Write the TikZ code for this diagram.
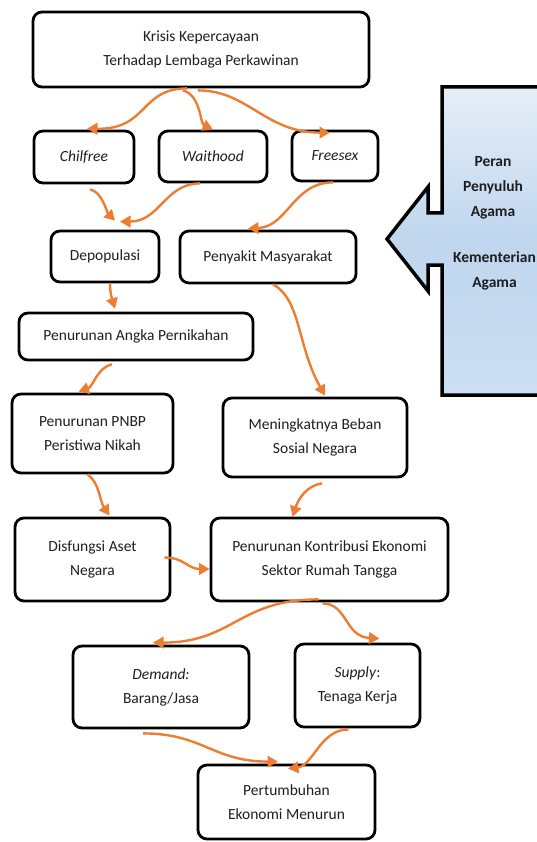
\documentclass[tikz,border=0pt]{standalone}
\usepackage{fontspec}
\setmainfont{Carlito}
\usetikzlibrary{arrows.meta}
\definecolor{oranye}{HTML}{ED7D31}
\definecolor{teks}{HTML}{1E1E1E}
\definecolor{biruA}{HTML}{E6EEF8}
\definecolor{biruB}{HTML}{BFD6EE}
\definecolor{biruC}{HTML}{CCDFF2}

\begin{document}
\begin{tikzpicture}[x = 1pt, y = -1pt, line width = 1pt,
                        kotak/.style = {draw, rounded corners = 9pt, line width = 2.8pt, align = center,
                                        text = teks, inner sep = 0pt, font = \fontsize{15.5}{24}\selectfont},
                        label peran/.style = {align = center, text = teks, font = \bfseries\fontsize{15.5}{25}\selectfont},
                        panah/.style = {draw = oranye, line width = 2.4pt, -{Triangle[length = 10.5pt, width = 11.5pt]}}]
      \useasboundingbox (0, 0) rectangle (537, 842);
      \clip (0, 0) rectangle (537, 842);

      % kotak penyuluh agama
      \path [draw, line width = 3.5pt, top color = biruA, bottom color = biruC, middle color = biruB]
            (442, 87) -- (545, 87) -- (545, 395) -- (442, 395) -- (442, 265) -- (428, 265)
            -- (428, 291) -- (387, 239) -- (428, 187) -- (428, 213) -- (442, 213) -- cycle;
      \node [label peran] (peran) at (493, 188) {Peran\\Penyuluh\\Agama};
      \node [label peran] (kemenag) at (494.5, 271) {Kementerian\\Agama};

      \node [kotak, minimum width = 336pt, minimum height = 75pt] (krisis) at (201, 49.5) {Krisis Kepercayaan\\Terhadap Lembaga Perkawinan};
      \node [kotak, minimum width = 100pt, minimum height = 52pt] (chil) at (84, 157) {\itshape Chilfree};
      \node [kotak, minimum width = 108pt, minimum height = 51pt] (wait) at (213, 156.5) {\itshape Waithood};
      \node [kotak, minimum width = 86pt, minimum height = 50pt] (free) at (335, 156) {\itshape Freesex};
      \node [kotak, minimum width = 108pt, minimum height = 51pt] (depop) at (105, 256.5) {Depopulasi};
      \node [kotak, minimum width = 176pt, minimum height = 52pt] (penyakit) at (268, 257) {Penyakit Masyarakat};
      \node [kotak, minimum width = 234pt, minimum height = 47pt] (angka) at (136, 336.5) {Penurunan Angka Pernikahan};
      \node [kotak, minimum width = 161pt, minimum height = 79pt] (pnbp) at (92.5, 433.5) {Penurunan PNBP\\Peristiwa Nikah};
      \node [kotak, minimum width = 184pt, minimum height = 79pt] (beban) at (315, 437.5) {Meningkatnya Beban\\Sosial Negara};
      \node [kotak, minimum width = 155pt, minimum height = 83pt] (aset) at (92.5, 559.5) {Disfungsi Aset\\Negara};
      \node [kotak, minimum width = 237pt, minimum height = 83pt] (kontribusi) at (329.5, 559.5) {Penurunan Kontribusi Ekonomi\\Sektor Rumah Tangga};
      \node [kotak, minimum width = 176pt, minimum height = 82pt] (demand) at (161, 687) {\textit{Demand:}\\Barang/Jasa};
      \node [kotak, minimum width = 125pt, minimum height = 83pt] (supply) at (357.5, 685.5) {\textit{Supply}:\\Tenaga Kerja};
      \node [kotak, minimum width = 177pt, minimum height = 74pt] (tumbuh) at (286.5, 802) {Pertumbuhan\\Ekonomi Menurun};

      \draw [panah] ([xshift = -14pt]krisis.south) .. controls +(-47, 0) and +(61, 1) .. ([xshift = 3pt, yshift = 1pt]chil.north);
      \draw [panah] ([xshift = -18pt, yshift = -2pt]krisis.south) .. controls +(18, 5) and +(-13, -6) .. (wait.north);
      \draw [panah] ([xshift = -3pt, yshift = -2pt]krisis.south) .. controls +(50, 0) and +(-65, 0) .. ([xshift = -5pt, yshift = -3pt]free.north);
      \draw [panah] ([xshift = 6pt, yshift = -5pt]chil.south) .. controls +(12, 2) and +(-8, -8) .. ([xshift = 10pt, yshift = 9pt]depop.north);
      \draw [panah] ([xshift = -13pt]wait.south) .. controls +(-35, 0) and +(40, 0) .. ([xshift = 15pt, yshift = 8pt]depop.north);
      \draw [panah] ([xshift = -2pt]free.south) .. controls +(-40, 0) and +(40, -2) .. ([xshift = -20pt, yshift = 1pt]penyakit.north);
      \draw [panah] ([xshift = 5pt]depop.south) .. controls +(0, 10) and +(-3, -10) .. ([xshift = -21pt, yshift = 3pt]angka.north);
      \draw [panah] ([xshift = -24pt, yshift = -3pt]angka.south) .. controls +(-15, 3) and +(15, -5) .. ([xshift = -14pt, yshift = 1pt]pnbp.north);
      \draw [panah] ([xshift = 5pt]penyakit.south) .. controls +(28, 15) and +(-28, -50) .. ([xshift = 10pt, yshift = 1pt]beban.north);
      \draw [panah] ([xshift = -5pt]pnbp.south) .. controls +(12, 8) and +(-10, -15) .. ([xshift = 17pt, yshift = 1pt]aset.north);
      \draw [panah] ([xshift = 7pt, yshift = -5pt]beban.south) .. controls +(-15, 2) and +(6, -18) .. ([xshift = -37pt]kontribusi.north);
      \draw [panah] ([xshift = -7pt, yshift = 2pt]aset.east) .. controls +(20, 0) and +(-22, 0) .. ([yshift = -9.5pt]kontribusi.west);
      \draw [panah] ([xshift = -11pt, yshift = 3pt]kontribusi.south) .. controls +(-80, 0) and +(80, 0) .. ([xshift = -8pt, yshift = 2pt]demand.north);
      \draw [panah] ([xshift = -7pt, yshift = -1pt]kontribusi.south) .. controls +(25, 0) and +(-35, -2) .. ([xshift = 22pt, yshift = 4pt]supply.north);
      \draw [panah] ([xshift = -18pt, yshift = -4pt]demand.south) .. controls +(60, 0) and +(-65, 0) .. ([xshift = -8.5pt, yshift = 2pt]tumbuh.north);
      \draw [panah] ([xshift = -9pt, yshift = -1pt]supply.south) .. controls +(-28, 0) and +(25, -3) .. ([xshift = 1.5pt, yshift = -5pt]tumbuh.north);
      \end{tikzpicture}
\end{document}
